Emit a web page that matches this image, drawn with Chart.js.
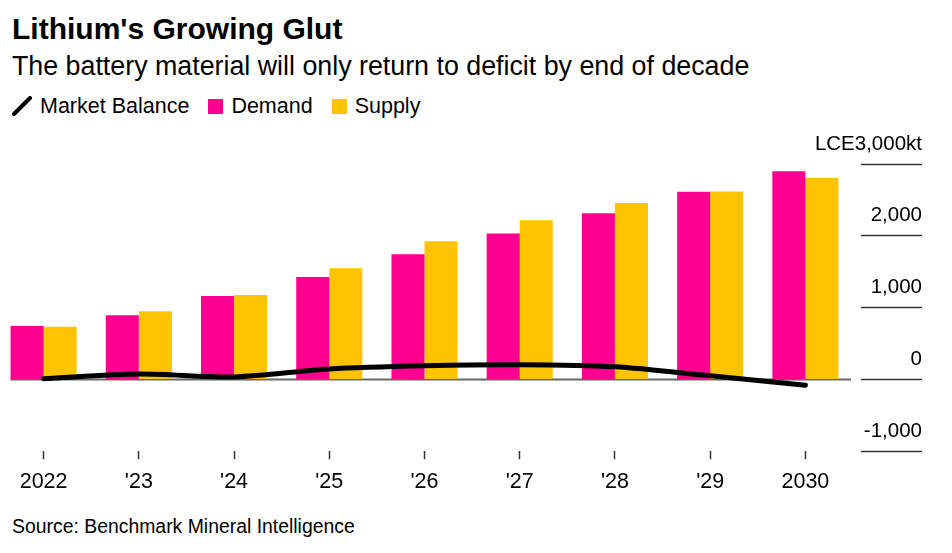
<!DOCTYPE html>
<html>
<head>
<meta charset="utf-8">
<script src="https://cdn.jsdelivr.net/npm/chart.js@4.4.1/dist/chart.umd.min.js"></script>
<style>
  html, body { margin:0; padding:0; background:#fff; }
  body { width:952px; height:553px; position:relative; overflow:hidden; font-family:"Liberation Sans", Arial, sans-serif; color:#000; }
  .txt { position:absolute; left:12px; white-space:nowrap; }
  #title { top:14px; font-size:30px; line-height:30px; font-weight:bold; }
  #subtitle { top:53px; font-size:26.8px; line-height:27px; }
  #legend { top:95px; font-size:21.5px; line-height:22px; display:flex; align-items:center; }
  #legend .item { display:flex; align-items:center; margin-right:19px; }
  #legend .sw { width:15px; height:15px; display:inline-block; margin-right:8px; }
  #source { top:516px; font-size:19.4px; line-height:20px; }
  #wrap { position:absolute; left:-4px; top:0; width:956px; height:553px; }
</style>
</head>
<body>
<div id="title" class="txt">Lithium's Growing Glut</div>
<div id="subtitle" class="txt">The battery material will only return to deficit by end of decade</div>
<div id="legend" class="txt">
  <span class="item"><svg width="20" height="20" style="margin-right:8px"><line x1="2" y1="18" x2="18" y2="2" stroke="#000" stroke-width="4" stroke-linecap="round"/></svg>Market Balance</span>
  <span class="item"><span class="sw" style="background:#FF0090"></span>Demand</span>
  <span class="item"><span class="sw" style="background:#FFC300"></span>Supply</span>
</div>
<div id="source" class="txt">Source: Benchmark Mineral Intelligence</div>
<div id="wrap"><canvas id="c" width="956" height="553"></canvas></div>
<script>
const categories = ["2022", "'23", "'24", "'25", "'26", "'27", "'28", "'29", "2030"];
const demand = [745, 895, 1162, 1425, 1743, 2033, 2314, 2614, 2900];
const supply = [733, 950, 1176, 1549, 1923, 2217, 2458, 2618, 2808];
const marketBalance = [10, 75, 35, 145, 190, 205, 175, 50, -80];
const yTicks = [-1000, 0, 1000, 2000, 3000];

const PINK = '#FF0090', YELLOW = '#FFC300';

const zeroLine = {
  id: 'zeroLine',
  beforeDatasetsDraw(chart) {
    const y = chart.scales.y.getPixelForValue(0);
    const bars = chart.getDatasetMeta(1).data;
    const x0 = bars[0].x - bars[0].width / 2;
    const ctx = chart.ctx;
    ctx.save();
    ctx.strokeStyle = '#666';
    ctx.lineWidth = 2;
    ctx.beginPath();
    ctx.moveTo(x0, y);
    ctx.lineTo(chart.chartArea.right - 2, y);
    ctx.stroke();
    ctx.restore();
  }
};

new Chart(document.getElementById('c'), {
  data: {
    labels: categories,
    datasets: [
      { type: 'line', label: 'Market Balance', data: marketBalance, borderColor: '#000', borderWidth: 5,
        pointRadius: 0, tension: 0.3, borderCapStyle: 'round', order: 0 },
      { type: 'bar', label: 'Demand', data: demand, backgroundColor: PINK, borderWidth: 0, order: 1,
        categoryPercentage: 0.694, barPercentage: 1.0 },
      { type: 'bar', label: 'Supply', data: supply, backgroundColor: YELLOW, borderWidth: 0, order: 1,
        categoryPercentage: 0.694, barPercentage: 1.0 }
    ]
  },
  options: {
    responsive: false,
    devicePixelRatio: 1,
    animation: false,
    layout: { padding: { top: 164, left: 0, right: 30, bottom: 48 } },
    plugins: { legend: { display: false }, tooltip: { enabled: false } },
    scales: {
      x: {
        offset: true,
        border: { display: false },
        grid: { drawOnChartArea: false, drawTicks: true, tickLength: 8, tickColor: '#333', tickWidth: 1.5, offset: false },
        ticks: { color: '#000', font: { family: '"Liberation Sans", Arial, sans-serif', size: 21.5 }, padding: 10, maxRotation: 0, autoSkip: false }
      },
      y: {
        position: 'right',
        min: -1000, max: 3000,
        afterBuildTicks(scale) { scale.ticks = yTicks.map(v => ({ value: v })); },
        afterFit(scale) { scale.width = 69; },
        border: { display: false },
        grid: { drawOnChartArea: false, drawTicks: true, tickLength: 69, tickColor: '#333', tickWidth: 1.5,
                tickBorderDash: [0, 8, 61, 0] },
        ticks: {
          color: '#000', font: { family: '"Liberation Sans", Arial, sans-serif', size: 20.5 },
          mirror: true, padding: 69, labelOffset: -20,
          callback: (v) => v === 3000 ? 'LCE3,000kt' : v.toLocaleString('en-US')
        }
      }
    }
  },
  plugins: [zeroLine]
});
</script>
</body>
</html>
